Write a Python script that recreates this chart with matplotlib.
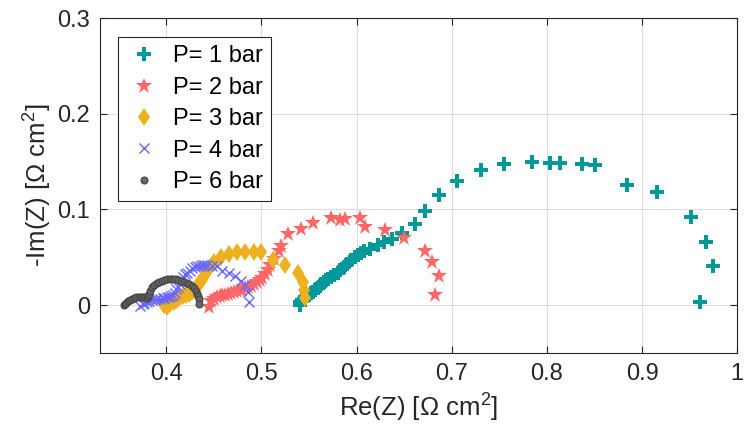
import numpy as np
import matplotlib
matplotlib.use('Agg')
import matplotlib.pyplot as plt

plt.rcParams['font.family'] = ['Liberation Sans', 'DejaVu Sans']
plt.rcParams['mathtext.fontset'] = 'custom'
plt.rcParams['mathtext.rm'] = 'Liberation Sans'
plt.rcParams['mathtext.it'] = 'Liberation Sans:italic'

# P = 1 bar
re_p1 = [0.540, 0.541, 0.543, 0.545, 0.546, 0.548, 0.550, 0.552, 0.554, 0.556,
         0.559, 0.561, 0.563, 0.566, 0.568, 0.570, 0.573, 0.576, 0.580, 0.583,
         0.587, 0.590, 0.594, 0.598, 0.601, 0.605, 0.608, 0.614, 0.622, 0.629,
         0.637, 0.648, 0.661, 0.672, 0.687, 0.705, 0.731, 0.755, 0.784, 0.803,
         0.814, 0.837, 0.850, 0.884, 0.916, 0.951, 0.967, 0.974, 0.961]
im_p1 = [0.000, 0.003, 0.005, 0.006, 0.008, 0.009, 0.011, 0.013, 0.014, 0.016,
         0.018, 0.020, 0.022, 0.024, 0.026, 0.027, 0.029, 0.031, 0.034, 0.037,
         0.040, 0.043, 0.047, 0.050, 0.052, 0.054, 0.056, 0.059, 0.063, 0.066,
         0.069, 0.075, 0.085, 0.098, 0.115, 0.130, 0.141, 0.147, 0.150, 0.148,
         0.148, 0.147, 0.146, 0.126, 0.118, 0.092, 0.066, 0.041, 0.003]

# P = 2 bar
re_p2 = [0.445, 0.447, 0.450, 0.453, 0.456, 0.459, 0.462, 0.465, 0.468, 0.471,
         0.474, 0.477, 0.480, 0.483, 0.486, 0.489, 0.492, 0.495, 0.498, 0.501,
         0.504, 0.507, 0.509, 0.513, 0.518, 0.521, 0.528, 0.542, 0.554, 0.573,
         0.582, 0.588, 0.604, 0.609, 0.630, 0.650, 0.672, 0.679, 0.687, 0.682]
im_p2 = [-0.002, 0.004, 0.006, 0.008, 0.009, 0.010, 0.011, 0.012, 0.013, 0.014,
         0.015, 0.016, 0.016, 0.018, 0.019, 0.020, 0.022, 0.024, 0.026, 0.028,
         0.032, 0.037, 0.042, 0.048, 0.056, 0.062, 0.074, 0.080, 0.086, 0.091,
         0.089, 0.090, 0.091, 0.082, 0.078, 0.070, 0.057, 0.045, 0.030, 0.011]

# P = 3 bar
re_p3 = [0.398, 0.401, 0.404, 0.408, 0.411, 0.414, 0.418, 0.421, 0.424, 0.427,
         0.430, 0.432, 0.434, 0.437, 0.439, 0.442, 0.446, 0.450, 0.457, 0.466,
         0.474, 0.483, 0.492, 0.500, 0.512, 0.525, 0.538, 0.544, 0.545, 0.546]
im_p3 = [0.000, -0.002, 0.001, 0.003, 0.005, 0.008, 0.009, 0.010, 0.012, 0.014,
         0.016, 0.019, 0.023, 0.026, 0.028, 0.033, 0.040, 0.045, 0.050, 0.053,
         0.055, 0.055, 0.055, 0.055, 0.047, 0.042, 0.033, 0.024, 0.016, 0.007]

# P = 4 bar
re_p4 = [0.372, 0.375, 0.377, 0.380, 0.382, 0.385, 0.388, 0.390, 0.393, 0.396,
         0.398, 0.401, 0.403, 0.405, 0.407, 0.409, 0.410, 0.412, 0.414, 0.416,
         0.418, 0.420, 0.422, 0.425, 0.427, 0.430, 0.432, 0.435, 0.437, 0.440,
         0.443, 0.448, 0.453, 0.459, 0.466, 0.472, 0.478, 0.483, 0.486, 0.487]
im_p4 = [-0.001, 0.001, 0.002, 0.003, 0.004, 0.005, 0.005, 0.006, 0.006, 0.007,
         0.007, 0.008, 0.008, 0.009, 0.011, 0.013, 0.017, 0.019, 0.022, 0.026,
         0.029, 0.032, 0.034, 0.036, 0.039, 0.040, 0.041, 0.041, 0.042, 0.042,
         0.042, 0.041, 0.041, 0.036, 0.033, 0.030, 0.025, 0.021, 0.014, 0.003]

# P = 6 bar
re_p6 = [0.356, 0.357, 0.358, 0.360, 0.362, 0.364, 0.366, 0.368, 0.371, 0.373,
         0.376, 0.378, 0.380, 0.381, 0.382, 0.383, 0.385, 0.387, 0.390, 0.392,
         0.395, 0.398, 0.401, 0.404, 0.406, 0.409, 0.412, 0.415, 0.419, 0.422,
         0.424, 0.427, 0.429, 0.431, 0.432, 0.433, 0.434, 0.434]
im_p6 = [0.000, 0.001, 0.002, 0.004, 0.005, 0.006, 0.007, 0.008, 0.008, 0.008,
         0.008, 0.008, 0.007, 0.009, 0.012, 0.015, 0.019, 0.021, 0.023, 0.024,
         0.025, 0.026, 0.027, 0.027, 0.027, 0.027, 0.026, 0.025, 0.024, 0.023,
         0.022, 0.020, 0.018, 0.015, 0.012, 0.009, 0.006, 0.001]

labels = ['P= 1 bar', 'P= 2 bar', 'P= 3 bar', 'P= 4 bar', 'P= 6 bar']

fig = plt.figure(figsize=(7.44, 4.4), dpi=100)
ax = fig.add_axes([0.134, 0.198, 0.857, 0.761])

ax.plot(re_p1, im_p1, 'P', color='#009999', ms=9.5, mew=0, ls='none', label=labels[0])
ax.plot(re_p2, im_p2, '*', color='#FF6666', ms=12, mew=0, ls='none', label=labels[1])
ax.plot(re_p3, im_p3, 'd', color='#EDB120', ms=9.5, mew=0, ls='none', label=labels[2])
ax.plot(re_p4, im_p4, 'x', color='#6666FF', ms=7, mew=1.0, ls='none', label=labels[3])
ax.plot(re_p6, im_p6, 'o', color='#666666', mec='#444444', ms=5, mew=0.8, ls='none', label=labels[4])

ax.set_xlim(0.33, 1.0)
ax.set_ylim(-0.05, 0.3)
ax.set_xticks([0.4, 0.5, 0.6, 0.7, 0.8, 0.9, 1.0])
ax.set_xticklabels(['0.4', '0.5', '0.6', '0.7', '0.8', '0.9', '1'])
ax.set_yticks([0, 0.1, 0.2, 0.3])
ax.set_yticklabels(['0', '0.1', '0.2', '0.3'])
ax.grid(True, color='#dddddd', lw=0.8)
ax.set_axisbelow(True)
ax.tick_params(direction='in', length=5, width=0.8, top=True, right=True,
               labelsize=17, colors='#262626', labelcolor='#262626', pad=7)
for s in ax.spines.values():
    s.set_color('#262626')
    s.set_linewidth(0.8)

ax.set_xlabel('Re(Z) [Ω cm$^2$]', fontsize=18.5, color='#262626', labelpad=5)
ax.set_ylabel('-Im(Z) [Ω cm$^2$]', fontsize=18.5, color='#262626', labelpad=2)

leg = ax.legend(loc='upper left', bbox_to_anchor=(0.028, 0.943), borderaxespad=0,
                fontsize=17, frameon=True, fancybox=False, framealpha=1,
                edgecolor='#262626', handletextpad=0.5, borderpad=0.35,
                labelspacing=0.4, handlelength=1.5)
leg.get_frame().set_linewidth(0.8)

fig.savefig('out.png', dpi=100)
